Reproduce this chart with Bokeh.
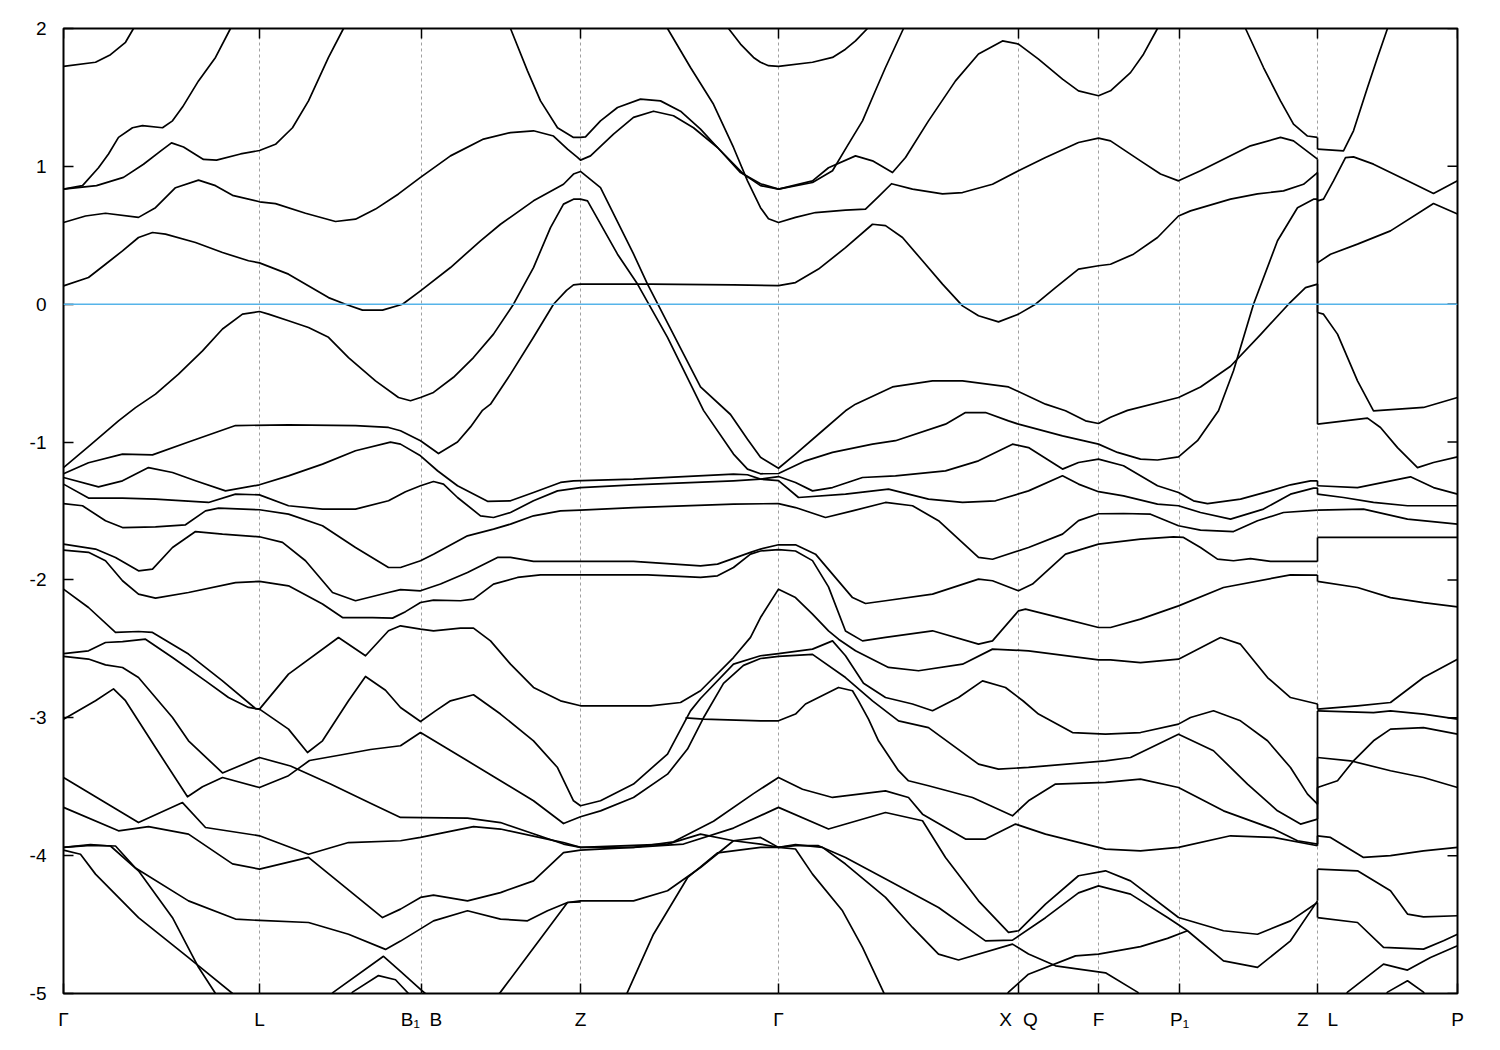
from bokeh.plotting import figure
from bokeh.models import FixedTicker, Span, Range1d
from bokeh.embed import file_html
from bokeh.resources import INLINE

# ---- k-path ticks (path coordinate) and labels ----
xticks = [0, 196, 358, 517, 715, 955, 1035, 1116, 1254, 1394]
xlabels = ["Γ", "L", "B₁\u2002B", "Z", "Γ", "X\u2002\u200aQ", "F", "P₁", "Z\u2003L", "P"]
yticks = [-5, -4, -3, -2, -1, 0, 1, 2]
K_ZL = 1254

# ---- bands, segment Γ-L-B1|B-Z-Γ-X|Q-F-P1-Z : (k, E[eV]) ----
bA = [(0,1.725),(32,1.755),(47,1.81),(62,1.90),(70,2.0),(80,2.12)]
bB = [(0,0.835),(19,0.86),(35,0.99),(45,1.09),(55,1.21),(69,1.28),(79,1.295),(99,1.28),(109,1.33),(119,1.43),(135,1.62),(152,1.79),(167,2.0),(177,2.12)]
bC = [(0,0.835),(33,0.86),(60,0.92),(80,1.015),(97,1.11),(108,1.17),(120,1.14),(140,1.05),(153,1.045),(177,1.09),(196,1.115),(212,1.16),(229,1.28),(245,1.475),(265,1.79),(280,2.0),(288,2.12)]
bD = [(0,0.593),(22,0.64),(42,0.66),(75,0.63),(92,0.70),(112,0.845),(135,0.90),(152,0.86),(169,0.79),(196,0.743),(212,0.73),(242,0.66),(272,0.60),(292,0.617),(312,0.69),(335,0.80),(357,0.92),(387,1.076),(420,1.198),(447,1.245),(470,1.258),(490,1.22),(504,1.125),(514,1.065),(517,1.045),(527,1.076),(550,1.234),(570,1.355),(590,1.40),(610,1.367),(630,1.28),(654,1.137),(680,0.944),(697,0.86),(715,0.835),(749,0.895),(765,0.99),(792,1.076),(809,1.04),(829,0.955),(842,1.064),(865,1.33),(892,1.62),(915,1.815),(939,1.91),(955,1.887),(975,1.778),(999,1.633),(1015,1.548),(1035,1.512),(1047,1.548),(1067,1.68),(1080,1.814),(1094,2.0),(1103,2.12)]
bE = [(439,2.15),(447,2.0),(464,1.693),(477,1.475),(494,1.28),(510,1.21),(517,1.21),(522,1.214),(537,1.33),(554,1.427),(577,1.488),(597,1.475),(617,1.40),(637,1.27),(657,1.113),(677,0.955),(697,0.874),(715,0.835),(749,0.883),(769,0.968),(784,1.15),(799,1.33),(812,1.55),(822,1.717),(840,2.0),(846,2.12)]
bF = [(594,2.12),(604,2.0),(627,1.717),(650,1.45),(670,1.137),(684,0.895),(697,0.70),(705,0.62),(715,0.593),(732,0.63),(752,0.665),(782,0.683),(802,0.69),(815,0.78),(828,0.874),(849,0.835),(879,0.80),(899,0.81),(929,0.87),(955,0.968),(982,1.064),(1015,1.173),(1035,1.205),(1047,1.185),(1077,1.04),(1097,0.944),(1115,0.895),(1137,0.968),(1160,1.052),(1187,1.149),(1217,1.21),(1230,1.185),(1254,1.052)]
bG = [(655,2.12),(665,2.0),(677,1.887),(690,1.79),(697,1.755),(705,1.73),(715,1.725),(749,1.755),(769,1.79),(782,1.85),(792,1.91),(804,2.0),(810,2.1)]
bZt = [(1175,2.1),(1182,2.0),(1200,1.717),(1217,1.475),(1230,1.306),(1244,1.22),(1254,1.21)]
bU5 = [(0,0.133),(25,0.194),(42,0.29),(59,0.387),(75,0.484),(89,0.52),(102,0.508),(132,0.448),(159,0.375),(185,0.315),(196,0.30),(225,0.218),(265,0.048),(282,0.0),(299,-0.043),(319,-0.043),(339,0.0),(357,0.097),(387,0.266),(417,0.46),(437,0.58),(470,0.75),(500,0.87),(510,0.944),(517,0.963),(537,0.846),(570,0.365),(584,0.146),(637,-0.60),(667,-0.80),(684,-0.98),(697,-1.11),(715,-1.19),(732,-1.087),(759,-0.918),(782,-0.773),(792,-0.725),(829,-0.60),(869,-0.556),(899,-0.556),(945,-0.60),(982,-0.725),(1002,-0.773),(1022,-0.846),(1035,-0.865),(1047,-0.82),(1064,-0.77),(1115,-0.677),(1137,-0.60),(1167,-0.45),(1197,-0.22),(1225,0.0),(1242,0.12),(1254,0.146)]
bLb = [(0,-1.185),(27,-1.02),(55,-0.846),(72,-0.75),(92,-0.652),(115,-0.507),(139,-0.338),(159,-0.18),(179,-0.072),(196,-0.053),(205,-0.072),(225,-0.12),(245,-0.169),(265,-0.24),(285,-0.387),(312,-0.556),(335,-0.677),(347,-0.70),(357,-0.677),(370,-0.64),(390,-0.53),(410,-0.387),(430,-0.217),(450,0.0),(470,0.266),(487,0.556),(500,0.726),(510,0.762),(517,0.762),(524,0.75),(554,0.363),(574,0.146),(604,-0.24),(640,-0.77),(670,-1.087),(684,-1.196),(697,-1.23),(715,-1.228),(742,-1.136),(769,-1.075),(809,-1.015),(832,-0.99),(882,-0.87),(902,-0.786),(922,-0.786),(945,-0.846),(955,-0.87),(999,-0.955),(1035,-1.015),(1054,-1.075),(1077,-1.124),(1094,-1.13),(1115,-1.107),(1134,-0.99),(1155,-0.773),(1170,-0.483),(1190,0.0),(1214,0.46),(1234,0.70),(1250,0.762),(1254,0.762)]
bI = [(0,-1.23),(25,-1.15),(59,-1.087),(89,-1.093),(125,-1.0),(172,-0.88),(225,-0.875),(292,-0.88),(325,-0.894),(337,-0.918),(357,-0.99),(375,-1.083),(394,-1.0),(407,-0.89),(419,-0.77),(427,-0.725),(447,-0.507),(470,-0.24),(490,0.0),(503,0.10),(510,0.14),(517,0.146),(587,0.146),(670,0.14),(715,0.135),(732,0.157),(755,0.255),(782,0.41),(809,0.58),(822,0.57),(839,0.484),(859,0.315),(879,0.146),(899,-0.012),(915,-0.084),(935,-0.128),(955,-0.072),(972,0.0),(992,0.121),(1015,0.255),(1035,0.279),(1047,0.29),(1070,0.363),(1094,0.484),(1115,0.64),(1127,0.677),(1167,0.762),(1194,0.80),(1220,0.822),(1240,0.87),(1254,0.955)]
bL3 = [(0,-1.257),(35,-1.325),(59,-1.281),(85,-1.185),(109,-1.221),(132,-1.281),(162,-1.354),(196,-1.31),(225,-1.245),(259,-1.16),(292,-1.063),(327,-1.0),(337,-1.015),(357,-1.10),(374,-1.208),(394,-1.317),(424,-1.43),(447,-1.426),(470,-1.366),(497,-1.293),(510,-1.281),(570,-1.269),(670,-1.232),(684,-1.237),(697,-1.269),(715,-1.28),(735,-1.402),(782,-1.378),(825,-1.341),(865,-1.414),(899,-1.438),(932,-1.426),(965,-1.354),(999,-1.245),(1015,-1.305),(1035,-1.36),(1060,-1.39),(1094,-1.45),(1115,-1.462),(1137,-1.511),(1167,-1.559),(1200,-1.486),(1227,-1.378),(1250,-1.334),(1254,-1.334)]
bL4 = [(0,-1.305),(25,-1.406),(59,-1.406),(92,-1.414),(145,-1.438),(172,-1.378),(196,-1.383),(225,-1.462),(259,-1.486),(292,-1.486),(325,-1.426),(342,-1.36),(357,-1.317),(370,-1.286),(380,-1.305),(394,-1.402),(417,-1.535),(430,-1.547),(447,-1.511),(470,-1.426),(494,-1.354),(517,-1.33),(570,-1.31),(670,-1.281),(697,-1.269),(715,-1.25),(732,-1.293),(749,-1.354),(769,-1.33),(799,-1.257),(832,-1.245),(882,-1.209),(915,-1.136),(949,-1.015),(965,-1.04),(999,-1.196),(1015,-1.148),(1035,-1.124),(1060,-1.172),(1094,-1.317),(1115,-1.366),(1130,-1.426),(1144,-1.446),(1177,-1.414),(1207,-1.354),(1227,-1.31),(1247,-1.281),(1254,-1.281)]
bL5 = [(0,-1.446),(19,-1.462),(42,-1.571),(59,-1.62),(92,-1.615),(122,-1.6),(142,-1.499),(155,-1.479),(196,-1.491),(225,-1.523),(259,-1.607),(292,-1.765),(325,-1.91),(337,-1.91),(357,-1.861),(370,-1.813),(404,-1.68),(430,-1.631),(447,-1.595),(470,-1.535),(497,-1.499),(517,-1.494),(570,-1.475),(670,-1.45),(715,-1.446),(732,-1.475),(762,-1.547),(789,-1.499),(822,-1.438),(849,-1.462),(875,-1.57),(915,-1.837),(929,-1.85),(965,-1.765),(999,-1.668),(1015,-1.57),(1035,-1.52),(1060,-1.518),(1087,-1.523),(1115,-1.607),(1137,-1.639),(1170,-1.649),(1194,-1.571),(1220,-1.511),(1254,-1.494)]
bL6 = [(0,-1.74),(32,-1.776),(52,-1.837),(75,-1.934),(89,-1.922),(109,-1.765),(132,-1.649),(159,-1.668),(196,-1.687),(219,-1.728),(242,-1.861),(269,-2.091),(292,-2.151),(325,-2.091),(337,-2.07),(357,-2.079),(377,-2.03),(404,-1.946),(434,-1.837),(447,-1.837),(470,-1.866),(570,-1.866),(637,-1.898),(654,-1.885),(687,-1.80),(697,-1.776),(715,-1.745),(732,-1.745),(752,-1.813),(769,-1.958),(789,-2.128),(802,-2.171),(822,-2.151),(869,-2.103),(915,-1.994),(929,-2.006),(955,-2.079),(969,-2.03),(1002,-1.813),(1035,-1.74),(1077,-1.704),(1110,-1.687),(1120,-1.692),(1137,-1.765),(1154,-1.849),(1170,-1.861),(1187,-1.845),(1207,-1.866),(1254,-1.866)]
bL7 = [(0,-1.784),(25,-1.80),(42,-1.861),(59,-2.006),(75,-2.103),(92,-2.132),(125,-2.091),(172,-2.019),(196,-2.011),(225,-2.043),(259,-2.175),(279,-2.273),(309,-2.273),(329,-2.277),(342,-2.23),(357,-2.164),(370,-2.146),(397,-2.151),(410,-2.139),(430,-2.03),(454,-1.982),(477,-1.963),(517,-1.963),(584,-1.963),(637,-1.982),(654,-1.97),(670,-1.91),(687,-1.813),(697,-1.79),(715,-1.78),(732,-1.79),(749,-1.86),(765,-2.05),(782,-2.37),(799,-2.442),(822,-2.417),(869,-2.369),(915,-2.466),(929,-2.442),(955,-2.224),(962,-2.212),(1002,-2.284),(1035,-2.345),(1047,-2.345),(1077,-2.284),(1115,-2.188),(1160,-2.055),(1227,-1.963),(1254,-1.965)]
bL8 = [(0,-2.067),(25,-2.20),(52,-2.381),(75,-2.374),(89,-2.381),(125,-2.538),(159,-2.732),(192,-2.933),(196,-2.937),(225,-3.082),(244,-3.252),(259,-3.167),(285,-2.877),(302,-2.70),(322,-2.80),(337,-2.925),(357,-3.027),(372,-2.95),(387,-2.877),(410,-2.833),(437,-2.973),(470,-3.167),(494,-3.361),(510,-3.602),(517,-3.638),(537,-3.602),(570,-3.481),(604,-3.263),(627,-2.95),(637,-2.86),(670,-2.611),(697,-2.55),(715,-2.534),(749,-2.502),(769,-2.442),(782,-2.55),(800,-2.75),(822,-2.853),(849,-2.90),(869,-2.949),(895,-2.853),(919,-2.732),(942,-2.78),(960,-2.88),(975,-2.973),(1009,-3.107),(1042,-3.119),(1077,-3.107),(1115,-3.046),(1127,-2.998),(1150,-2.949),(1177,-3.022),(1204,-3.167),(1227,-3.361),(1244,-3.554),(1254,-3.627)]
bL9 = [(0,-2.534),(25,-2.514),(42,-2.454),(59,-2.447),(82,-2.43),(109,-2.563),(142,-2.732),(165,-2.853),(185,-2.925),(196,-2.937),(225,-2.683),(275,-2.418),(302,-2.55),(325,-2.369),(337,-2.333),(357,-2.357),(370,-2.369),(397,-2.35),(410,-2.35),(427,-2.442),(447,-2.611),(470,-2.78),(497,-2.877),(517,-2.913),(587,-2.913),(617,-2.889),(637,-2.804),(670,-2.563),(687,-2.417),(697,-2.273),(715,-2.067),(732,-2.128),(749,-2.248),(765,-2.369),(775,-2.43),(792,-2.514),(825,-2.635),(855,-2.659),(899,-2.611),(929,-2.502),(965,-2.514),(1035,-2.58),(1047,-2.58),(1077,-2.6),(1115,-2.575),(1157,-2.418),(1177,-2.466),(1204,-2.708),(1227,-2.853),(1254,-2.90)]
bL10 = [(0,-2.555),(25,-2.574),(42,-2.616),(59,-2.635),(75,-2.708),(92,-2.853),(109,-2.998),(125,-3.167),(159,-3.40),(196,-3.288),(227,-3.35),(267,-3.48),(307,-3.62),(337,-3.723),(404,-3.728),(437,-3.76),(500,-3.916),(517,-3.94),(604,-3.916),(637,-3.844),(670,-3.892),(697,-3.916),(715,-3.94),(732,-3.928),(755,-3.928),(782,-4.013),(825,-4.18),(875,-4.376),(922,-4.618),(949,-4.613),(982,-4.45),(1015,-4.27),(1035,-4.219),(1067,-4.279),(1104,-4.449),(1124,-4.545),(1160,-4.763),(1194,-4.811),(1227,-4.618),(1254,-4.328)]
bA3 = [(0,-3.01),(32,-2.876),(50,-2.79),(62,-2.876),(92,-3.216),(124,-3.573),(139,-3.5),(159,-3.433),(196,-3.506),(225,-3.42),(246,-3.31),(277,-3.27),(307,-3.23),(337,-3.203),(357,-3.107),(404,-3.312),(437,-3.457),(470,-3.602),(500,-3.767),(517,-3.718),(537,-3.675),(570,-3.578),(604,-3.409),(624,-3.227),(640,-3.0),(660,-2.75),(680,-2.62),(697,-2.57),(715,-2.555),(749,-2.54),(782,-2.708),(809,-2.877),(835,-3.022),(865,-3.071),(915,-3.336),(935,-3.372),(965,-3.36),(1042,-3.312),(1067,-3.288),(1115,-3.119),(1150,-3.239),(1184,-3.481),(1214,-3.675),(1237,-3.771),(1254,-3.735)]
bFl = [(622,-3.0),(640,-3.01),(697,-3.022),(715,-3.022),(732,-2.973),(742,-2.90),(775,-2.78),(789,-2.804),(795,-2.877),(805,-3.01),(815,-3.167),(835,-3.384),(845,-3.457),(865,-3.493),(909,-3.578),(949,-3.711),(965,-3.602),(992,-3.481),(1042,-3.469),(1077,-3.445),(1115,-3.506),(1160,-3.675),(1210,-3.807),(1234,-3.892),(1254,-3.916)]
bM6 = [(0,-3.433),(75,-3.76),(119,-3.615),(142,-3.796),(196,-3.856),(245,-3.99),(285,-3.905),(337,-3.892),(357,-3.868),(410,-3.79),(437,-3.807),(500,-3.905),(517,-3.94),(570,-3.94),(610,-3.90),(650,-3.75),(690,-3.55),(715,-3.433),(739,-3.518),(769,-3.578),(822,-3.53),(845,-3.578),(859,-3.699),(882,-3.796),(902,-3.88),(922,-3.88),(952,-3.771),(982,-3.844),(1042,-3.953),(1077,-3.965),(1115,-3.94),(1167,-3.856),(1210,-3.868),(1254,-3.928)]
bM7 = [(0,-3.65),(55,-3.82),(85,-3.79),(125,-3.844),(169,-4.06),(196,-4.098),(245,-4.013),(319,-4.449),(337,-4.388),(357,-4.303),(370,-4.287),(404,-4.328),(437,-4.268),(470,-4.183),(500,-3.978),(517,-3.96),(570,-3.94),(620,-3.916),(670,-3.80),(715,-3.65),(765,-3.807),(822,-3.687),(859,-3.747),(882,-4.013),(915,-4.328),(945,-4.557),(955,-4.545),(982,-4.351),(1015,-4.146),(1042,-4.11),(1067,-4.183),(1115,-4.449),(1160,-4.545),(1194,-4.57),(1227,-4.473),(1254,-4.34)]
bM8 = [(0,-3.94),(27,-3.925),(52,-3.93),(72,-4.09),(125,-4.328),(172,-4.46),(196,-4.47),(245,-4.485),(285,-4.57),(322,-4.68),(337,-4.62),(370,-4.473),(404,-4.40),(437,-4.46),(464,-4.473),(484,-4.40),(504,-4.34),(517,-4.328),(570,-4.328),(604,-4.255),(637,-4.086),(670,-3.892),(697,-3.868),(715,-3.94),(732,-3.92),(759,-3.94),(782,-4.061),(822,-4.303),(849,-4.521),(875,-4.714),(895,-4.757),(949,-4.642),(965,-4.714),(992,-4.799),(1042,-4.85),(1074,-4.99),(1080,-5.05)]
bM9 = [(0,-3.94),(27,-3.92),(47,-3.93),(75,-4.11),(109,-4.45),(135,-4.81),(152,-5.0),(165,-5.15)]
bM10 = [(0,-3.96),(17,-3.99),(32,-4.134),(75,-4.45),(125,-4.74),(169,-5.0),(180,-5.1)]
bM11 = [(410,-5.2),(437,-4.99),(470,-4.67),(504,-4.34),(517,-4.335)]
bM12 = [(555,-5.15),(564,-4.99),(590,-4.57),(624,-4.16),(654,-3.98),(697,-3.94),(715,-3.94),(732,-3.952),(749,-4.134),(779,-4.40),(799,-4.666),(820,-4.99),(825,-5.08)]
bM13 = [(262,-5.05),(270,-4.99),(320,-4.73),(337,-4.84),(357,-4.97),(370,-5.05)]
bM14 = [(285,-5.05),(289,-4.99),(315,-4.87),(332,-4.9),(345,-5.0),(350,-5.05)]
bM15 = [(940,-5.05),(945,-4.99),(965,-4.86),(1012,-4.727),(1035,-4.714),(1077,-4.66),(1104,-4.60),(1124,-4.545)]

# ---- bands, segment L-P ----
R1 = [(1254,1.125),(1280,1.113),(1290,1.258),(1304,1.572),(1314,1.79),(1324,2.0),(1328,2.1)]
R2 = [(1254,0.75),(1260,0.762),(1270,0.895),(1282,1.064),(1290,1.069),(1310,1.016),(1344,0.895),(1370,0.803),(1394,0.895)]
R3 = [(1254,0.30),(1267,0.363),(1294,0.436),(1327,0.532),(1370,0.73),(1394,0.654)]
R4 = [(1254,-0.06),(1260,-0.072),(1274,-0.217),(1294,-0.556),(1310,-0.773),(1360,-0.749),(1394,-0.677)]
R5 = [(1254,-0.87),(1304,-0.826),(1317,-0.894),(1334,-1.04),(1354,-1.185),(1370,-1.148),(1394,-1.107)]
R6 = [(1254,-1.317),(1294,-1.33),(1347,-1.252),(1370,-1.33),(1394,-1.378)]
R7 = [(1254,-1.378),(1280,-1.402),(1310,-1.438),(1344,-1.462),(1394,-1.462)]
R8 = [(1254,-1.494),(1300,-1.486),(1344,-1.559),(1394,-1.595)]
R9 = [(1254,-1.692),(1394,-1.692)]
R10 = [(1254,-2.011),(1294,-2.055),(1327,-2.128),(1360,-2.164),(1394,-2.195)]
R11 = [(1254,-2.937),(1294,-2.913),(1327,-2.889),(1360,-2.708),(1394,-2.575)]
R12 = [(1254,-2.95),(1310,-2.962),(1327,-2.95),(1360,-2.973),(1394,-3.01)]
R13 = [(1254,-3.288),(1287,-3.312),(1327,-3.384),(1360,-3.433),(1394,-3.506)]
R14 = [(1254,-3.506),(1274,-3.457),(1290,-3.312),(1310,-3.167),(1327,-3.082),(1360,-3.071),(1394,-3.119)]
R15 = [(1254,-3.856),(1267,-3.868),(1300,-4.013),(1327,-4.0),(1360,-3.965),(1394,-3.94)]
R16 = [(1254,-4.098),(1294,-4.11),(1327,-4.255),(1344,-4.424),(1360,-4.444),(1394,-4.436)]
R17 = [(1254,-4.449),(1294,-4.485),(1320,-4.666),(1360,-4.678),(1380,-4.618),(1394,-4.57)]
R18 = [(1280,-5.05),(1284,-4.99),(1320,-4.787),(1344,-4.83),(1367,-4.739),(1394,-4.654)]
R19 = [(1320,-5.05),(1324,-4.99),(1344,-4.908),(1360,-4.99),(1364,-5.05)]

left_bands = [bA, bB, bC, bD, bE, bF, bG, bZt, bU5, bLb, bI, bL3, bL4, bL5, bL6, bL7,
              bL8, bL9, bL10, bA3, bFl, bM6, bM7, bM8, bM9, bM10, bM11, bM12, bM13, bM14, bM15]
right_bands = [R1, R2, R3, R4, R5, R6, R7, R8, R9, R10, R11, R12, R13, R14, R15, R16, R17, R18, R19]

X0, X1, Y0, Y1 = xticks[0], xticks[-1], yticks[0], yticks[-1]
FRAME_W, FRAME_H = 1394, 965
p = figure(width=63 + FRAME_W + 35, height=28 + FRAME_H + 50,
           x_range=Range1d(X0, X1), y_range=Range1d(Y0, Y1),
           output_backend="svg", toolbar_location=None,
           min_border_left=63, min_border_right=35, min_border_top=28, min_border_bottom=50)
p.background_fill_color = "white"
p.border_fill_color = "white"
p.outline_line_color = "black"
p.outline_line_width = 2

xs = [[k for k, e in b] for b in left_bands + right_bands]
ys = [[e for k, e in b] for b in left_bands + right_bands]

# band-index jumps at the Z|L discontinuity
ends = sorted([b[-1][1] for b in left_bands if b[-1][0] == K_ZL], reverse=True)
starts = sorted([b[0][1] for b in right_bands if b[0][0] == K_ZL], reverse=True)
for e0, e1 in zip(ends, starts):
    xs.append([K_ZL, K_ZL])
    ys.append([e0, e1])

p.multi_line(xs, ys, line_color="black", line_width=1.7, line_join="round")

p.add_layout(Span(location=0, dimension="width", line_color="#56b4e9", line_width=1.6))

# mirrored inward tick marks on the right and top frame edges (10 px long)
tick_dx = 10 * (X1 - X0) / FRAME_W
tick_dy = 10 * (Y1 - Y0) / FRAME_H
p.segment(x0=[X1 - tick_dx] * len(yticks), y0=yticks, x1=[X1] * len(yticks), y1=yticks,
          line_color="black", line_width=1.5)
p.segment(x0=xticks, y0=[Y1 - tick_dy] * len(xticks), x1=xticks, y1=[Y1] * len(xticks),
          line_color="black", line_width=1.5)

font = "Liberation Sans"
p.xaxis.ticker = FixedTicker(ticks=xticks)
p.xaxis.major_label_overrides = {k: lab for k, lab in zip(xticks, xlabels)}
p.yaxis.ticker = FixedTicker(ticks=yticks)
p.yaxis.major_label_overrides = {v: str(v) for v in yticks}
for ax in (p.xaxis[0], p.yaxis[0]):
    ax.axis_line_color = None
    ax.major_tick_in = 10
    ax.major_tick_out = 0
    ax.minor_tick_line_color = None
    ax.major_tick_line_color = "black"
    ax.major_tick_line_width = 1.5
    ax.major_label_text_font = font
    ax.major_label_text_font_size = "19px"
    ax.major_label_text_color = "black"
p.xaxis.major_label_standoff = 15
p.yaxis.major_label_standoff = 17

p.xgrid.ticker = FixedTicker(ticks=xticks[1:-1])
p.xgrid.grid_line_color = "#a0a0a0"
p.xgrid.grid_line_dash = "3 3"
p.xgrid.grid_line_width = 1
p.ygrid.grid_line_color = None

open("out.html", "w").write(file_html(p, INLINE))
